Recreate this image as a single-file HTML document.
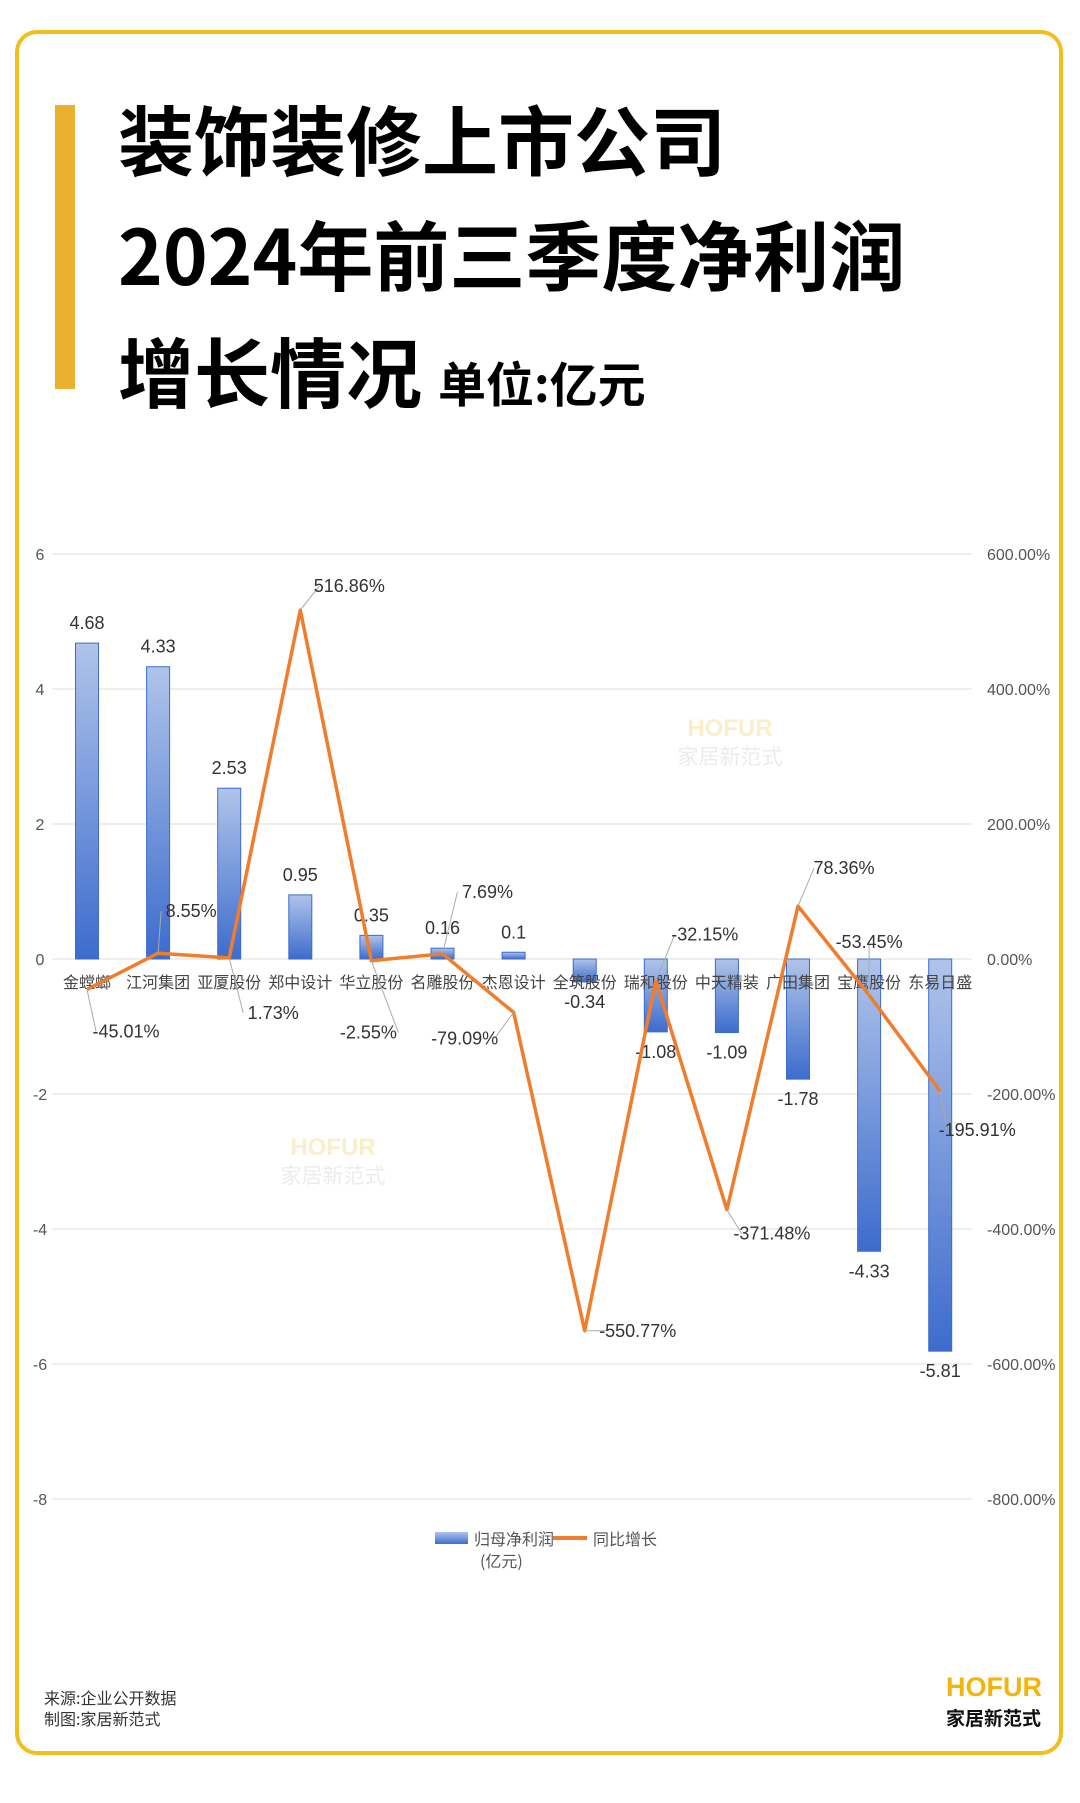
<!DOCTYPE html>
<html><head><meta charset="utf-8"><style>
html,body{margin:0;padding:0;background:#fff;}
body{width:1080px;height:1803px;position:relative;overflow:hidden;font-family:"Liberation Sans","Noto Sans CJK SC",sans-serif;}
.frame{position:absolute;left:15px;top:30px;width:1048px;height:1725px;border:4px solid #f2bd1d;border-radius:22px;box-sizing:border-box;}
.bar{position:absolute;left:55px;top:105px;width:20px;height:284px;background:#e8b130;}
.t{position:absolute;left:118px;font-weight:bold;color:#000;font-size:76px;line-height:1;font-family:"Noto Sans CJK SC",sans-serif;}
.unit{font-size:48px;margin-left:16px;}
.foot{position:absolute;left:44px;font-size:16px;color:#333;font-family:"Noto Sans CJK SC",sans-serif;}
.logo1{position:absolute;left:946px;top:1672px;font-size:27px;font-weight:bold;color:#f3b40c;font-family:"Liberation Sans",sans-serif;}
.logo2{position:absolute;left:946px;top:1704px;font-size:19px;font-weight:bold;color:#111;font-family:"Noto Sans CJK SC",sans-serif;}
svg{position:absolute;left:0;top:0;}
</style></head><body>
<div class="frame"></div>
<div class="bar"></div>
<div class="t" style="top:99px">装饰装修上市公司</div>
<div class="t" style="top:214px">2024年前三季度净利润</div>
<div class="t" style="top:331px">增长情况<span class="unit">单位:亿元</span></div>
<svg id="chart" width="1080" height="1803"></svg>
<div class="foot" style="top:1685px">来源:企业公开数据</div>
<div class="foot" style="top:1706px">制图:家居新范式</div>
<div class="logo1">HOFUR</div>
<div class="logo2">家居新范式</div>
<script>
const categories=["金螳螂","江河集团","亚厦股份","郑中设计","华立股份","名雕股份","杰恩设计","全筑股份","瑞和股份","中天精装","广田集团","宝鹰股份","东易日盛"];
const profits=[4.68,4.33,2.53,0.95,0.35,0.16,0.1,-0.34,-1.08,-1.09,-1.78,-4.33,-5.81];
const growth=[-45.01,8.55,1.73,516.86,-2.55,7.69,-79.09,-550.77,-32.15,-371.48,78.36,-53.45,-195.91];
const leftTicks=[6,4,2,0,-2,-4,-6,-8];
const rightTicks=["600.00%","400.00%","200.00%","0.00%","-200.00%","-400.00%","-600.00%","-800.00%"];
const labelDx=[39,33,44,49,-3,45,-49,53,49,45,46,0,37];
const labelDy=[42,-42,55,-24,72,-62,26,0,-46,24,-38,-53,39];
const NS="http://www.w3.org/2000/svg";
const svg=document.getElementById('chart');
const y0=959, perUnit=67.5, x0=87, step=71.1, bw=23;
const yL=v=>y0-v*perUnit;
const yR=p=>y0-p/100*perUnit;
const xC=i=>x0+i*step;
function mk(tag,a){const e=document.createElementNS(NS,tag);for(const k in a)e.setAttribute(k,a[k]);svg.appendChild(e);return e;}
const defs=mk('defs',{});
const g=document.createElementNS(NS,'linearGradient');g.id='bg';g.setAttribute('x1','0');g.setAttribute('y1','0');g.setAttribute('x2','0');g.setAttribute('y2','1');
[['0','#b0c4ea'],['1','#3d6ccd']].forEach(s=>{const st=document.createElementNS(NS,'stop');st.setAttribute('offset',s[0]);st.setAttribute('stop-color',s[1]);g.appendChild(st);});
defs.appendChild(g);
[[730,736],[333,1155]].forEach(p=>{
 let w=mk('text',{x:p[0],y:p[1],'font-size':24,'font-weight':'bold','fill':'#fbeecb','text-anchor':'middle'});w.textContent='HOFUR';
 
 
 let w2=mk('text',{x:p[0],y:p[1]+28,'font-size':21,'fill':'#ececec','text-anchor':'middle','font-family':'Noto Sans CJK SC'});w2.textContent='家居新范式';
 
 
});
leftTicks.forEach((v,i)=>{
 const y=yL(v);
 const l=mk('line',{x1:52,x2:972,y1:y,y2:y,stroke:'#e3e3e3','stroke-width':1.3});
 
 
 const t=mk('text',{x:40,y:y+6,'font-size':16,fill:'#555','text-anchor':'middle'});t.textContent=v;
 
 
 const r=mk('text',{x:987,y:y+6,'font-size':16,fill:'#555'});r.textContent=rightTicks[i];
 
 
});
profits.forEach((v,i)=>{
 const x=xC(i),y=Math.min(yL(v),y0),h=Math.abs(yL(v)-y0);
 const b=mk('rect',{x:x-bw/2,y:y,width:bw,height:h,fill:'url(#bg)',stroke:'#3d6ccd','stroke-width':1});
 
 
 const t=mk('text',{x:x,y:v>=0?yL(v)-14:yL(v)+26,'font-size':18,fill:'#333','text-anchor':'middle'});t.textContent=v;
 
 
 const c=mk('text',{x:x,y:988,'font-size':16,fill:'#444','text-anchor':'middle','font-family':'Noto Sans CJK SC'});c.textContent=categories[i];
 
 
});
const pts=growth.map((p,i)=>xC(i)+','+yR(p)).join(' ');
const pl=mk('polyline',{points:pts,fill:'none',stroke:'#ef7d2c','stroke-width':3.5,'stroke-linejoin':'round'});


growth.forEach((p,i)=>{
 const x=xC(i)+labelDx[i],y=yR(p)+labelDy[i];
 const ld=mk('line',{x1:xC(i),y1:yR(p),x2:x-(labelDx[i]>0?30:-30)*(labelDx[i]===0?0:1),y2:y,stroke:'#aaa','stroke-width':1});
 
 
 const t=mk('text',{x:x,y:y+6,'font-size':18,fill:'#333','text-anchor':'middle'});t.textContent=p.toFixed(2)+'%';
 
 
});
const ls=mk('rect',{x:435,y:1532,width:33,height:12,fill:'url(#bg)'});


const lt=mk('text',{x:474,y:1545,'font-size':16,fill:'#555','font-family':'Noto Sans CJK SC'});lt.textContent='归母净利润';


const lt2=mk('text',{x:480,y:1567,'font-size':16,fill:'#555','font-family':'Noto Sans CJK SC'});lt2.textContent='(亿元)';


const ll=mk('line',{x1:553,x2:587,y1:1538,y2:1538,stroke:'#ef7d2c','stroke-width':4});


const lt3=mk('text',{x:593,y:1545,'font-size':16,fill:'#555','font-family':'Noto Sans CJK SC'});lt3.textContent='同比增长';


</script>
</body></html>
